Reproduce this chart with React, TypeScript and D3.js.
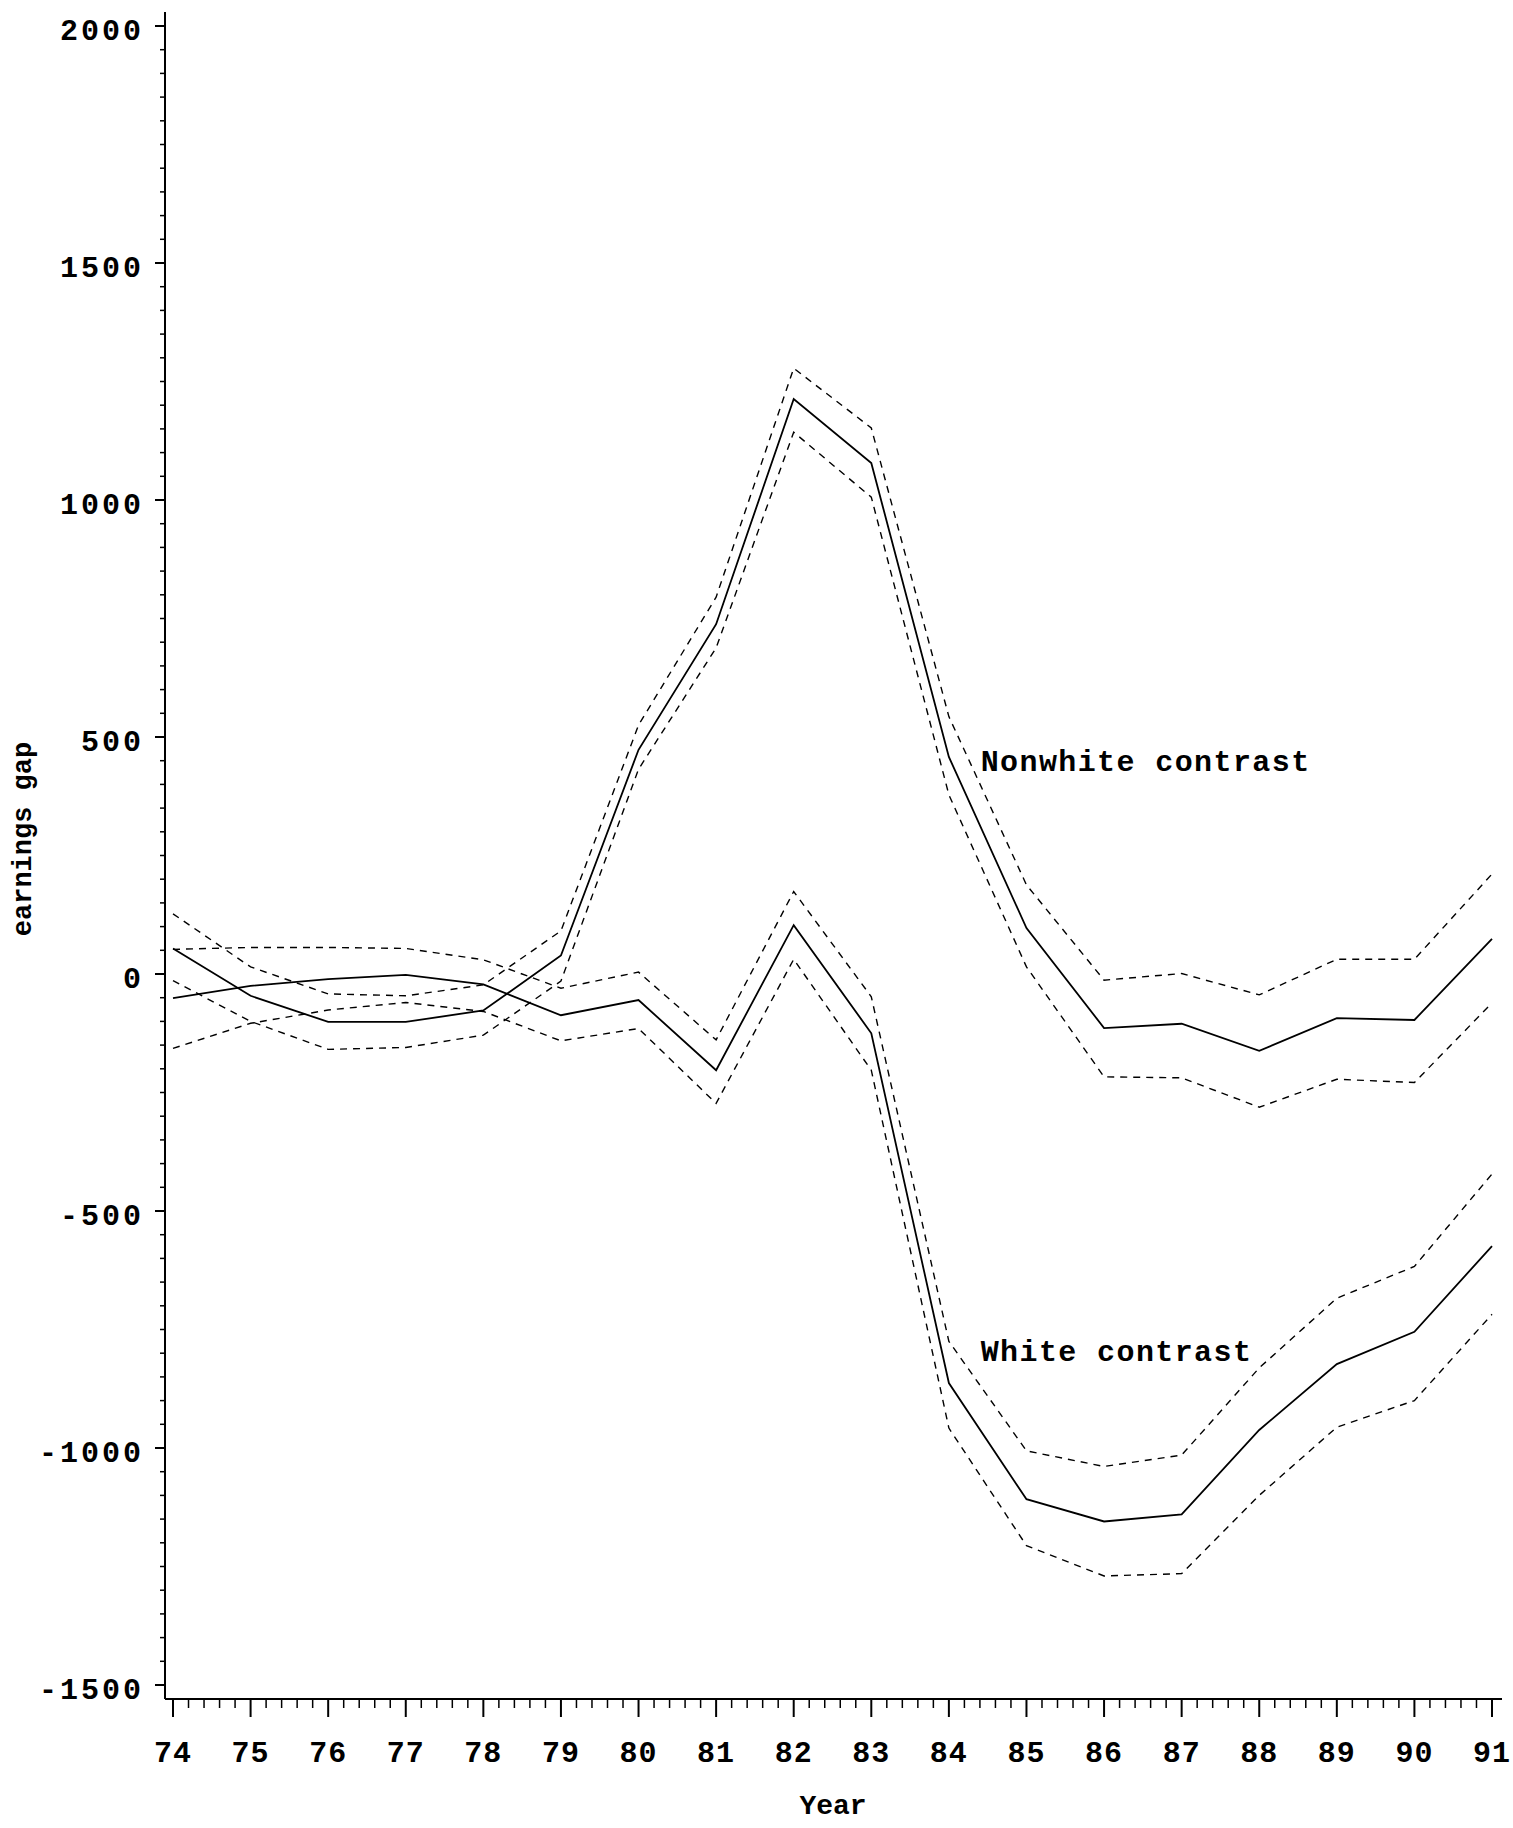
import React from "react";
import * as d3 from "d3";

// years on the x axis (19xx)
const years = [74, 75, 76, 77, 78, 79, 80, 81, 82, 83, 84, 85, 86, 87, 88, 89, 90, 91];

// Nonwhite contrast: estimate and band
const nonwhite = [54, -46, -101, -101, -77, 39, 473, 738, 1213, 1078, 458, 97, -114, -105, -162, -93, -97, 74];
const nonwhiteUpper = [127, 15, -42, -46, -23, 91, 525, 795, 1278, 1152, 543, 188, -13, 1, -44, 31, 31, 211];
const nonwhiteLower = [-14, -100, -159, -155, -129, -15, 432, 688, 1143, 1006, 378, 15, -217, -219, -281, -222, -229, -61];

// White contrast: estimate and band
const white = [-51, -25, -11, -2, -22, -87, -55, -203, 103, -125, -863, -1108, -1155, -1140, -962, -823, -755, -574];
const whiteUpper = [52, 56, 56, 54, 30, -30, 4, -139, 174, -48, -775, -1006, -1039, -1015, -831, -684, -617, -422];
const whiteLower = [-157, -104, -76, -60, -79, -141, -115, -273, 31, -203, -958, -1206, -1270, -1265, -1100, -956, -900, -718];

const yTicks = [-1500, -1000, -500, 0, 500, 1000, 1500, 2000];

// annotation anchors, in data units
const labels = [
  { text: "Nonwhite contrast", year: 84.41, value: 428 },
  { text: "White contrast", year: 84.41, value: -816 },
];

const W = 1513;
const H = 1828;
const FONT = "'Courier New', 'Liberation Mono', monospace";

export default function App() {
  const x = d3.scaleLinear().domain([74, 91]).range([173, 1492]);
  const y = d3.scaleLinear().domain([-1500, 2000]).range([1685, 26]);

  const axisX = 165; // y axis line
  const axisY = 1699; // x axis line

  const line = d3
    .line<number>()
    .x((_, i) => x(years[i]))
    .y((d) => y(d));

  const solid = [nonwhite, white];
  const dashed = [nonwhiteUpper, nonwhiteLower, whiteUpper, whiteLower];

  // minor ticks
  const xMinor = d3.range(74, 91.001, 0.2).filter((v) => Math.abs(v - Math.round(v)) > 0.01);
  const yMinor = d3.range(-1500, 2001, 50).filter((v) => v % 500 !== 0);

  return (
    <svg
      width={W}
      height={H}
      style={{ position: "absolute", left: 0, top: 0, background: "#fff" }}
    >
      {/* axes */}
      <line x1={axisX} x2={axisX} y1={12} y2={axisY} stroke="#000" strokeWidth={2} />
      <line x1={axisX} x2={1502} y1={axisY} y2={axisY} stroke="#000" strokeWidth={2} />

      {yTicks.map((t) => (
        <g key={"yt" + t}>
          <line x1={axisX - 10} x2={axisX} y1={y(t)} y2={y(t)} stroke="#000" strokeWidth={2} />
          <text
            x={144}
            y={y(t) + 14}
            textAnchor="end"
            fontFamily={FONT}
            fontWeight="bold"
            fontSize={30}
            letterSpacing={3}
          >
            {t}
          </text>
        </g>
      ))}
      {yMinor.map((t) => (
        <line key={"ym" + t} x1={axisX - 5} x2={axisX} y1={y(t)} y2={y(t)} stroke="#000" strokeWidth={1.5} />
      ))}

      {years.map((yr) => (
        <g key={"xt" + yr}>
          <line x1={x(yr)} x2={x(yr)} y1={axisY} y2={axisY + 18} stroke="#000" strokeWidth={2} />
          <text
            x={x(yr)}
            y={1762}
            textAnchor="middle"
            fontFamily={FONT}
            fontWeight="bold"
            fontSize={30}
            letterSpacing={1}
          >
            {yr}
          </text>
        </g>
      ))}
      {xMinor.map((v, i) => (
        <line key={"xm" + i} x1={x(v)} x2={x(v)} y1={axisY} y2={axisY + 9} stroke="#000" strokeWidth={1.5} />
      ))}

      {/* axis titles */}
      <text
        x={833}
        y={1814}
        textAnchor="middle"
        fontFamily={FONT}
        fontWeight="bold"
        fontSize={28}
      >
        Year
      </text>
      <text
        transform="translate(31,839) rotate(-90)"
        textAnchor="middle"
        fontFamily={FONT}
        fontWeight="bold"
        fontSize={27}
      >
        earnings gap
      </text>

      {/* series */}
      {dashed.map((s, i) => (
        <path
          key={"d" + i}
          d={line(s) || ""}
          fill="none"
          stroke="#000"
          strokeWidth={1.4}
          strokeDasharray="7,6"
        />
      ))}
      {solid.map((s, i) => (
        <path key={"s" + i} d={line(s) || ""} fill="none" stroke="#000" strokeWidth={1.8} />
      ))}

      {labels.map((l) => (
        <text
          key={l.text}
          x={x(l.year)}
          y={y(l.value)}
          fontFamily={FONT}
          fontWeight="bold"
          fontSize={30}
          letterSpacing={1.4}
        >
          {l.text}
        </text>
      ))}
    </svg>
  );
}
